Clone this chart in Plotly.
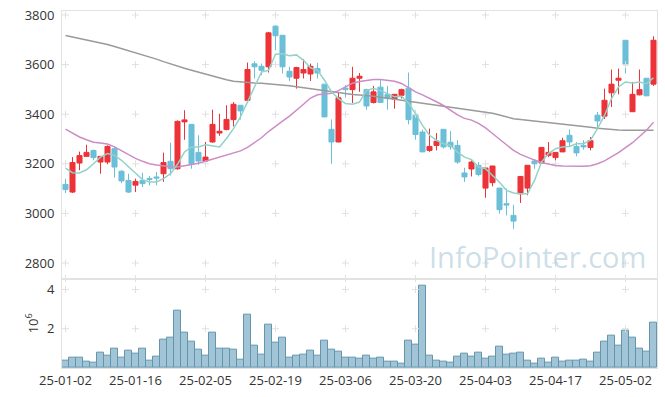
import plotly.graph_objects as go

dates = ["25-01-02","25-01-03","25-01-06","25-01-07","25-01-08","25-01-09","25-01-10","25-01-13","25-01-14","25-01-15",
         "25-01-16","25-01-17","25-01-20","25-01-21","25-01-22","25-01-23","25-01-24","25-01-31","25-02-03","25-02-04",
         "25-02-05","25-02-06","25-02-07","25-02-10","25-02-11","25-02-12","25-02-13","25-02-14","25-02-17","25-02-18",
         "25-02-19","25-02-20","25-02-21","25-02-24","25-02-25","25-02-26","25-02-27","25-02-28","25-03-04","25-03-05",
         "25-03-06","25-03-07","25-03-10","25-03-11","25-03-12","25-03-13","25-03-14","25-03-17","25-03-18","25-03-19",
         "25-03-20","25-03-21","25-03-24","25-03-25","25-03-26","25-03-27","25-03-28","25-03-31","25-04-01","25-04-02",
         "25-04-03","25-04-04","25-04-07","25-04-08","25-04-09","25-04-10","25-04-11","25-04-14","25-04-15","25-04-16",
         "25-04-17","25-04-18","25-04-21","25-04-22","25-04-23","25-04-24","25-04-25","25-04-28","25-04-29","25-04-30",
         "25-05-02","25-05-07","25-05-08","25-05-09","25-05-12"]

opens = [3117,3086,3203,3230,3254,3207,3207,3261,3170,3133,
         3114,3133,3141,3147,3160,3210,3180,3369,3359,3246,
         3211,3288,3324,3338,3378,3436,3456,3603,3593,3591,
         3755,3718,3573,3545,3566,3562,3584,3521,3339,3288,
         3505,3499,3545,3499,3447,3509,3480,3461,3476,3505,
         3396,3328,3254,3274,3339,3287,3274,3163,3179,3194,
         3102,3124,3102,3039,2992,3079,3102,3211,3203,3234,
         3225,3248,3315,3270,3274,3266,3396,3392,3486,3537,
         3698,3410,3478,3545,3521]
highs = [3139,3227,3249,3277,3257,3231,3274,3270,3174,3160,
         3140,3164,3151,3167,3245,3285,3375,3416,3360,3315,
         3288,3418,3402,3436,3449,3437,3608,3613,3604,3732,
         3759,3719,3591,3591,3622,3604,3607,3521,3379,3486,
         3517,3591,3566,3503,3514,3540,3514,3481,3503,3568,
         3416,3338,3342,3324,3340,3331,3295,3184,3214,3207,
         3184,3192,3103,3100,3035,3150,3195,3217,3267,3288,
         3247,3305,3338,3288,3295,3308,3409,3503,3580,3584,
         3699,3530,3580,3546,3714]
lows = [3082,3082,3174,3229,3214,3160,3198,3144,3122,3082,
        3086,3106,3113,3113,3127,3153,3176,3297,3180,3196,
        3210,3285,3313,3335,3351,3378,3445,3544,3557,3568,
        3658,3564,3534,3503,3544,3534,3544,3389,3200,3287,
        3467,3445,3490,3418,3443,3446,3418,3422,3463,3359,
        3297,3247,3248,3254,3261,3257,3200,3127,3149,3149,
        3063,3109,2999,2992,2938,3042,3073,3180,3202,3227,
        3187,3247,3268,3230,3257,3254,3342,3381,3429,3480,
        3564,3409,3476,3473,3514]
closes = [3096,3205,3233,3246,3225,3230,3270,3187,3131,3086,
          3129,3120,3137,3143,3205,3180,3371,3377,3200,3211,
          3227,3359,3331,3379,3440,3413,3580,3591,3577,3728,
          3716,3591,3550,3588,3580,3593,3566,3389,3288,3466,
          3499,3545,3553,3433,3490,3447,3463,3480,3499,3378,
          3318,3248,3270,3291,3268,3269,3207,3147,3207,3157,
          3183,3191,3015,3034,2969,3149,3194,3200,3266,3246,
          3246,3293,3288,3244,3268,3293,3373,3456,3521,3545,
          3599,3480,3499,3474,3698]
volumes_m = [0.38,0.52,0.52,0.33,0.26,0.78,0.62,0.98,0.52,0.88,
             0.72,0.98,0.38,0.57,1.45,1.55,2.90,1.81,1.34,0.93,
             0.62,1.81,0.98,0.98,0.93,0.41,2.74,1.14,0.67,2.22,
             1.29,1.55,0.52,0.62,0.67,0.88,0.62,1.40,0.93,0.83,
             0.52,0.52,0.47,0.62,0.47,0.52,0.31,0.31,0.21,1.40,
             1.19,4.19,0.62,0.36,0.31,0.26,0.57,0.72,0.57,0.78,
             0.47,0.57,1.09,0.67,0.72,0.78,0.36,0.21,0.47,0.26,
             0.52,0.31,0.36,0.36,0.41,0.31,0.78,1.34,1.66,1.14,
             1.91,1.55,0.98,0.83,2.33]
ma5 = [3183,3164,3163,3176,3200,3227,3241,3234,3214,3187,
       3160,3136,3127,3127,3140,3160,3198,3248,3268,3268,
       3277,3272,3268,3302,3342,3389,3449,3510,3570,3577,
       3642,3644,3636,3639,3617,3587,3577,3537,3490,3463,
       3443,3440,3449,3496,3503,3496,3483,3470,3472,3445,
       3402,3355,3315,3295,3281,3274,3247,3227,3217,3187,
       3180,3153,3126,3093,3082,3079,3079,3133,3207,3241,
       3261,3268,3270,3281,3281,3295,3342,3395,3463,3510,
       3530,3526,3530,3523,3547]
ma20 = [3340,3324,3308,3297,3287,3284,3280,3268,3252,3236,
        3222,3210,3200,3195,3191,3188,3187,3191,3196,3202,
        3210,3218,3225,3234,3243,3252,3266,3285,3305,3330,
        3352,3372,3392,3415,3440,3465,3478,3481,3484,3495,
        3510,3525,3532,3536,3540,3540,3537,3533,3524,3508,
        3490,3478,3465,3450,3435,3415,3397,3383,3376,3363,
        3345,3322,3300,3275,3254,3238,3225,3215,3205,3198,
        3193,3191,3190,3190,3190,3192,3200,3212,3228,3245,
        3265,3285,3310,3335,3368]
ma60 = [3717,3711,3706,3701,3696,3690,3681,3673,3665,3657,
        3649,3641,3632,3622,3612,3602,3594,3585,3577,3569,
        3561,3552,3545,3539,3533,3530,3528,3526,3525,3523,
        3521,3518,3515,3511,3507,3503,3499,3494,3490,3485,
        3481,3479,3477,3475,3472,3468,3464,3461,3458,3454,
        3450,3446,3442,3438,3433,3428,3424,3421,3418,3415,
        3411,3404,3397,3389,3382,3379,3376,3373,3370,3367,
        3364,3360,3357,3354,3350,3347,3343,3340,3337,3336,
        3335,3334,3334,3335,3335]

price_ticks = [2800, 3000, 3200, 3400, 3600, 3800]
vol_ticks = [2, 4]
TICK_STEP = 10

FONT = "Open Sans"
PRICE_RANGE = [2737, 3816]
VOL_RANGE = [0, 4.55]

idx = list(range(len(dates)))
x_tickvals = idx[::TICK_STEP]
x_ticktext = [dates[i] for i in x_tickvals]

fig = go.Figure()

cross_marker = dict(symbol="cross-thin", size=5, line=dict(color="#e0e0e0", width=1))
cx, cy = [], []
for xv in x_tickvals:
    for yv in price_ticks:
        cx.append(xv); cy.append(yv)
fig.add_trace(go.Scatter(x=cx, y=cy, mode="markers", xaxis="x", yaxis="y", marker=cross_marker,
                         hoverinfo="skip", showlegend=False, cliponaxis=False))
vx, vy = [], []
for xv in x_tickvals:
    for yv in vol_ticks + [VOL_RANGE[1]]:
        vx.append(xv); vy.append(yv)
fig.add_trace(go.Scatter(x=vx, y=vy, mode="markers", xaxis="x2", yaxis="y2", marker=cross_marker,
                         hoverinfo="skip", showlegend=False, cliponaxis=False))

fig.add_trace(go.Scatter(x=idx, y=ma60, mode="lines", line=dict(color="#9a9a9a", width=1.5),
                         xaxis="x", yaxis="y", showlegend=False, hoverinfo="skip"))
fig.add_trace(go.Scatter(x=idx, y=ma20, mode="lines", line=dict(color="#cc8cc6", width=1.5),
                         xaxis="x", yaxis="y", showlegend=False, hoverinfo="skip"))
fig.add_trace(go.Scatter(x=idx, y=ma5, mode="lines", line=dict(color="#92d2c8", width=1.5),
                         xaxis="x", yaxis="y", showlegend=False, hoverinfo="skip"))

fig.add_trace(go.Candlestick(x=idx, open=opens, high=highs, low=lows, close=closes,
                             xaxis="x", yaxis="y", whiskerwidth=0,
                             increasing=dict(line=dict(color="#ec3338", width=1), fillcolor="#ec3338"),
                             decreasing=dict(line=dict(color="#6bbfd8", width=1), fillcolor="#6bbfd8"),
                             showlegend=False))

fig.add_trace(go.Bar(x=idx, y=volumes_m, xaxis="x2", yaxis="y2",
                     marker=dict(color="rgba(130,178,200,0.75)", line=dict(color="#6396ad", width=1)),
                     showlegend=False))

axis_common = dict(showgrid=False, zeroline=False, showline=True, linecolor="#e2e2e2", linewidth=1,
                   mirror=True, automargin=False,
                   tickfont=dict(family=FONT, size=13, color="#333333"))
y_ticks = dict(ticks="outside", ticklen=4, tickcolor="rgba(0,0,0,0)")
x_ticks_style = dict(ticks="")

fig.update_layout(
    width=665, height=397,
    margin=dict(l=62, r=8, t=11, b=28.5, autoexpand=False),
    paper_bgcolor="white", plot_bgcolor="white",
    showlegend=False, bargap=0, boxgap=0.15, boxgroupgap=0.15,
    xaxis=dict(domain=[0, 1], anchor="y", range=[-0.5, 84.5],
               rangeslider=dict(visible=False), showticklabels=False,
               tickvals=x_tickvals, **x_ticks_style, **axis_common),
    yaxis=dict(domain=[0.2503, 1], anchor="x", range=PRICE_RANGE, tickvals=price_ticks,
               **y_ticks, **axis_common),
    xaxis2=dict(domain=[0, 1], anchor="y2", range=[-0.5, 84.5],
                tickvals=x_tickvals, ticktext=x_ticktext, tickangle=0, **x_ticks_style, **axis_common),
    yaxis2=dict(domain=[0, 0.2503], anchor="x2", range=VOL_RANGE, tickvals=vol_ticks,
                ticktext=[str(v) for v in vol_ticks],
                title=dict(text="10<sup>6</sup>", font=dict(family=FONT, size=13, color="#333333"), standoff=5),
                **y_ticks, **axis_common),
    annotations=[dict(text="InfoPointer.com", xref="paper", yref="paper", x=0.985, y=0.312,
                      xanchor="right", yanchor="middle", showarrow=False,
                      font=dict(family=FONT, size=29, color="rgba(160,195,212,0.55)"))],
)

fig.write_html("out.html", config={"displayModeBar": False},
               post_script="document.body.style.margin='0';document.body.style.overflow='hidden';")
